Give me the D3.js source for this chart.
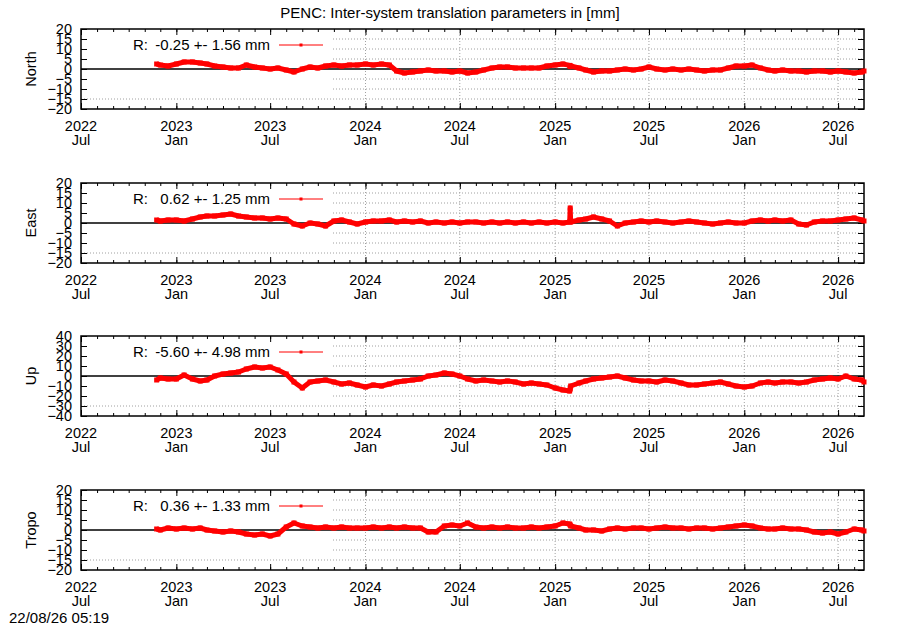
<!DOCTYPE html>
<html>
<head>
<meta charset="utf-8">
<script src="https://cdn.jsdelivr.net/npm/d3@7.9.0/dist/d3.min.js"></script>
<style>
  body { margin: 0; background: #fff; }
  svg { display: block; font-family: "Liberation Sans", Arial, sans-serif; }
</style>
</head>
<body>
<svg id="chart" width="900" height="630"></svg>
<script>
// sample dates (twice a month)
const dates = [
  "2022-11-24","2022-12-01","2022-12-16",
  "2023-01-01","2023-01-16","2023-02-01","2023-02-16","2023-03-01","2023-03-16","2023-04-01","2023-04-16",
  "2023-05-01","2023-05-16","2023-06-01","2023-06-16","2023-07-01","2023-07-16","2023-08-01","2023-08-16",
  "2023-09-01","2023-09-16","2023-10-01","2023-10-16","2023-11-01","2023-11-16","2023-12-01","2023-12-16",
  "2024-01-01","2024-01-16","2024-02-01","2024-02-16","2024-03-01","2024-03-16","2024-04-01","2024-04-16",
  "2024-05-01","2024-05-16","2024-06-01","2024-06-16","2024-07-01","2024-07-16","2024-08-01","2024-08-16",
  "2024-09-01","2024-09-16","2024-10-01","2024-10-16","2024-11-01","2024-11-16","2024-12-01","2024-12-16",
  "2025-01-01","2025-01-16","2025-01-29","2025-01-30","2025-01-31","2025-02-16","2025-03-01","2025-03-16",
  "2025-04-01","2025-04-16","2025-05-01","2025-05-16","2025-06-01","2025-06-16","2025-07-01","2025-07-16",
  "2025-08-01","2025-08-16","2025-09-01","2025-09-16","2025-10-01","2025-10-16","2025-11-01","2025-11-16",
  "2025-12-01","2025-12-16",
  "2026-01-01","2026-01-16","2026-02-01","2026-02-16","2026-03-01","2026-03-16","2026-04-01","2026-04-16",
  "2026-05-01","2026-05-16","2026-06-01","2026-06-16","2026-07-01","2026-07-16","2026-08-01","2026-08-16",
  "2026-08-20"
];

const north = [
  2.5, 2.0, 1.5,
  2.5, 3.5, 3.5, 3.0, 2.5, 1.5, 1.0, 0.5, 0.5, 2.0, 1.0, 0.5, 0.0, 0.5, -0.5, -1.5, 0.0, 1.0, 0.5, 1.5, 2.0, 1.5, 2.0, 2.0,
  2.5, 2.0, 2.5, 2.0, -1.0, -2.0, -1.5, -1.0, -0.5, -1.0, -1.0, -1.5, -1.0, -2.0, -1.5, -0.5, 0.5, 1.0, 1.0, 0.5, 0.5, 0.5, 0.5, 1.5,
  2.0, 2.5, 1.8, 1.2, 1.5, 0.5, -0.5, -1.5, -1.0, -1.0, -0.5, 0.0, -0.5, 0.0, 1.0, 0.0, -0.5, 0.0, -0.5, 0.0, -0.5, -1.0, -0.5, -0.5, 0.5, 1.5,
  1.5, 2.0, 0.5, -0.5, -1.0, -0.5, -1.0, -1.0, -1.5, -1.0, -1.0, -1.5, -1.0, -1.5, -2.0, -1.5,
  -1.0
];

const east = [
  1.5, 1.0, 1.5,
  1.5, 1.0, 2.0, 3.0, 3.5, 3.5, 4.0, 4.5, 3.5, 3.0, 2.5, 2.5, 2.0, 2.5, 2.0, -0.5, -1.5, 0.0, -0.5, -1.5, 1.0, 1.5, 0.5, -0.5,
  0.5, 1.0, 1.0, 1.5, 0.5, 1.0, 0.5, 1.0, 0.0, 0.5, 0.0, 0.5, 0.0, 0.5, 0.5, 0.0, 0.5, 0.0, 0.5, 0.0, 0.5, 0.0, 0.5, 0.0,
  0.5, 0.0, 0.5, 7.5, 0.5, 1.5, 2.0, 3.0, 2.0, 1.0, -1.5, 0.0, 0.5, 1.0, 0.5, 1.0, 0.5, 0.0, 0.5, 1.0, 0.5, 0.0, -0.5, 0.0, 0.5, 0.0,
  0.0, 1.0, 1.5, 1.0, 1.5, 1.0, 1.5, -0.5, -1.0, 0.5, 1.0, 1.0, 1.5, 2.0, 2.5, 1.5,
  1.0
];

const up = [
  -4, -2, -3,
  -3, 1, -3, -5, -4, 0, 2, 3, 4, 7, 9, 8, 9, 6, 2, -6, -12, -6, -5, -4, -6, -8, -7, -9,
  -11, -9, -10, -8, -6, -5, -4, -3, 0, 1, 3, 2, 0, -3, -5, -4, -5, -6, -5, -6, -8, -7, -8, -9,
  -12, -14, -15, -13, -10, -7, -5, -3, -2, -1, 0, -2, -4, -5, -5, -6, -4, -5, -7, -9, -9, -8, -7, -6, -8, -10,
  -11, -10, -7, -6, -7, -6, -6, -7, -6, -4, -3, -2, -3, 0, -3, -4,
  -6
];

const tropo = [
  0.5, 0.0, 1.0,
  0.5, 1.0, 0.5, 1.0, 0.0, -0.5, -1.0, -0.5, -1.0, -2.0, -2.5, -2.0, -3.0, -2.0, 1.5, 3.5, 2.0, 1.5, 1.0, 1.5, 1.0, 1.5, 1.0, 1.0,
  1.0, 1.5, 1.0, 1.5, 1.0, 1.5, 1.0, 1.0, -1.0, -1.0, 2.0, 2.5, 2.0, 3.5, 1.5, 1.0, 1.5, 1.0, 1.5, 1.0, 1.0, 1.5, 1.0, 1.5,
  2.0, 3.5, 3.0, 2.5, 2.0, 1.0, 0.0, 0.0, -0.5, 0.5, 1.0, 0.5, 1.0, 1.0, 0.5, 1.0, 1.5, 1.0, 1.0, 0.5, 1.0, 1.0, 0.5, 1.0, 1.5, 2.0,
  2.5, 2.0, 1.0, 0.5, 0.5, 1.0, 0.5, 0.5, 0.0, -1.0, -1.5, -1.0, -2.0, -1.0, 0.5, 0.0,
  -0.5
];

const panelNames = ["North", "East", "Up", "Tropo"];
const panelMeans = ["-0.25", "0.62", "-5.60", "0.36"];
const panelSigmas = ["1.56", "1.25", "4.98", "1.33"];
const ticksSmall = [-20, -15, -10, -5, 0, 5, 10, 15, 20];
const ticksUp = [-40, -30, -20, -10, 0, 10, 20, 30, 40];
const xTickDates = ["2022-07-01","2023-01-01","2023-07-01","2024-01-01","2024-07-01",
                    "2025-01-01","2025-07-01","2026-01-01","2026-07-01"];
const xTickYears = ["2022","2023","2023","2024","2024","2025","2025","2026","2026"];
const xTickMonths = ["Jul","Jan","Jul","Jan","Jul","Jan","Jul","Jan","Jul"];

const svg = d3.select("#chart");
const left = 81, right = 864, plotH = 80;
const tops = [29, 183, 336, 490];
const keyRight = 331;
const fs = 14.5;

const x = d3.scaleUtc()
  .domain([new Date("2022-07-01"), new Date("2026-08-20")])
  .range([left, right]);
const majorDates = xTickDates.map(d => new Date(d));
const minorDates = d3.utcMonth.range(x.domain()[0], x.domain()[1]);

svg.append("text")
  .attr("x", 450).attr("y", 18)
  .attr("text-anchor", "middle")
  .attr("font-size", 15)
  .text("PENC: Inter-system translation parameters in [mm]");

const series = [north, east, up, tropo];

series.forEach((vals, i) => {
  const top = tops[i];
  const ticks = i === 2 ? ticksUp : ticksSmall;
  const y = d3.scaleLinear().domain([ticks[0], ticks[ticks.length - 1]]).range([top + plotH, top]);
  const g = svg.append("g");

  // grid
  g.selectAll(".hgrid")
    .data(ticks.filter(t => t !== 0 && t !== ticks[0] && t !== ticks[ticks.length - 1]))
    .join("line")
    .attr("x1", left).attr("x2", right)
    .attr("y1", d => y(d)).attr("y2", d => y(d))
    .attr("stroke", "#a0a0a0").attr("stroke-width", 1).attr("stroke-dasharray", "1,2");
  g.selectAll(".vgrid")
    .data(majorDates.filter(d => x(d) > keyRight && x(d) < right))
    .join("line")
    .attr("x1", d => x(d)).attr("x2", d => x(d))
    .attr("y1", top).attr("y2", top + plotH)
    .attr("stroke", "#a0a0a0").attr("stroke-width", 1).attr("stroke-dasharray", "1,2");

  // opaque key box
  g.append("rect")
    .attr("x", left + 1).attr("y", top + 1)
    .attr("width", keyRight - left - 1).attr("height", 64)
    .attr("fill", "#fff");

  // zero line
  g.append("line")
    .attr("x1", left).attr("x2", right)
    .attr("y1", y(0)).attr("y2", y(0))
    .attr("stroke", "#000").attr("stroke-width", 1.3);

  // axes (inward ticks)
  const yl = g.append("g").attr("transform", `translate(${left},0)`)
    .call(d3.axisLeft(y).tickValues(ticks).tickSize(-6).tickPadding(9));
  yl.selectAll("text").attr("font-size", fs).attr("fill", "#000");
  g.append("g").attr("transform", `translate(${right},0)`)
    .call(d3.axisRight(y).tickValues(ticks).tickSize(-6).tickFormat(""));
  g.append("g").attr("transform", `translate(0,${top + plotH})`)
    .call(d3.axisBottom(x).tickValues(minorDates).tickSize(-3).tickFormat(""));
  g.append("g").attr("transform", `translate(0,${top})`)
    .call(d3.axisTop(x).tickValues(minorDates).tickSize(-3).tickFormat(""));
  g.append("g").attr("transform", `translate(0,${top + plotH})`)
    .call(d3.axisBottom(x).tickValues(majorDates).tickSize(-6).tickFormat(""));
  g.append("g").attr("transform", `translate(0,${top})`)
    .call(d3.axisTop(x).tickValues(majorDates).tickSize(-6).tickFormat(""));
  g.selectAll(".domain").remove();
  g.selectAll(".tick line").attr("stroke", "#000").attr("stroke-width", 1);

  // x tick labels (two lines)
  const lab = g.selectAll(".xlab").data(majorDates).join("text")
    .attr("text-anchor", "middle").attr("font-size", fs);
  lab.append("tspan").attr("x", d => x(d)).attr("y", top + plotH + 22)
    .text((d, j) => xTickYears[j]);
  lab.append("tspan").attr("x", d => x(d)).attr("y", top + plotH + 36)
    .text((d, j) => xTickMonths[j]);

  // frame
  g.append("rect")
    .attr("x", left).attr("y", top)
    .attr("width", right - left).attr("height", plotH)
    .attr("fill", "none").attr("stroke", "#000").attr("stroke-width", 1.5);

  // y label
  g.append("text")
    .attr("transform", `translate(36,${top + plotH / 2}) rotate(-90)`)
    .attr("text-anchor", "middle").attr("font-size", fs)
    .text(panelNames[i]);

  // data
  const pts = dates.map((d, j) => ({ date: new Date(d), v: vals[j] }));
  const line = d3.line().x(d => x(d.date)).y(d => y(d.v));
  g.append("path")
    .datum(pts)
    .attr("d", line)
    .attr("fill", "none").attr("stroke", "#ff0000")
    .attr("stroke-width", 5).attr("stroke-linejoin", "round");
  g.selectAll(".pt").data(pts).join("rect")
    .attr("x", d => x(d.date) - 2.5).attr("y", d => y(d.v) - 2.5)
    .attr("width", 5).attr("height", 5).attr("fill", "#ff0000");

  // key
  g.append("text").attr("x", 133).attr("y", top + 21).attr("font-size", 15).text("R:");
  g.append("text").attr("x", 270).attr("y", top + 21).attr("font-size", 15)
    .attr("text-anchor", "end")
    .text(`${panelMeans[i]} +- ${panelSigmas[i]} mm`);
  g.append("line")
    .attr("x1", 279).attr("x2", 323).attr("y1", top + 16).attr("y2", top + 16)
    .attr("stroke", "#ff0000").attr("stroke-width", 1);
  g.append("rect").attr("x", 299.5).attr("y", top + 14.5)
    .attr("width", 3).attr("height", 3).attr("fill", "#ff0000");
});

svg.append("text")
  .attr("x", 9).attr("y", 623)
  .attr("font-size", 15)
  .text("22/08/26 05:19");
</script>
</body>
</html>
